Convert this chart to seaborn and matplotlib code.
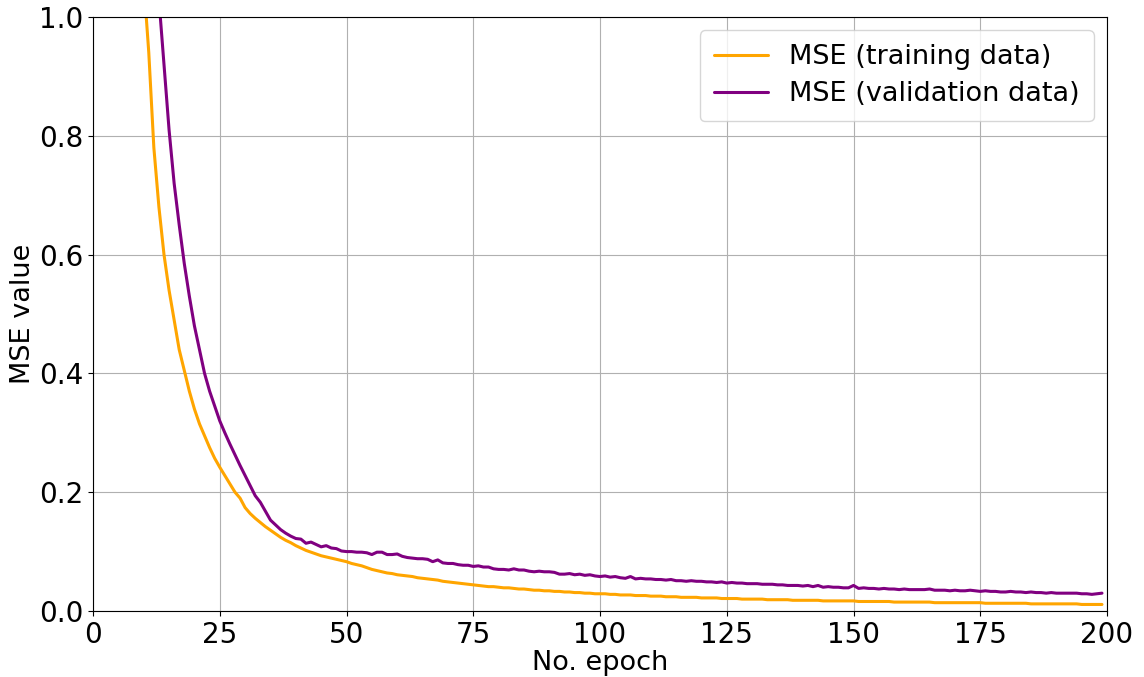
import numpy as np
import pandas as pd
import matplotlib
matplotlib.use("Agg")
import matplotlib.pyplot as plt
import seaborn as sns

# Epoch index 0..199
epochs = list(range(200))

train_mse = [
    6.20, 4.90, 3.95, 3.25, 2.70, 2.25, 1.90, 1.62, 1.38, 1.18,   # 0-9
    1.06, 0.94, 0.78, 0.68, 0.60, 0.54, 0.49, 0.44, 0.405, 0.37,  # 10-19
    0.34, 0.315, 0.295, 0.275, 0.257, 0.242, 0.228, 0.214, 0.200, 0.190,  # 20-29
    0.174, 0.164, 0.156, 0.149, 0.142, 0.136, 0.130, 0.124, 0.119, 0.115,  # 30-39
    0.110, 0.106, 0.102, 0.099, 0.096, 0.093, 0.091, 0.089, 0.087, 0.085,  # 40-49
    0.083, 0.080, 0.078, 0.076, 0.073, 0.070, 0.068, 0.066, 0.064, 0.063,  # 50-59
    0.061, 0.060, 0.059, 0.058, 0.056, 0.055, 0.054, 0.053, 0.052, 0.050,  # 60-69
    0.049, 0.048, 0.047, 0.046, 0.045, 0.044, 0.043, 0.042, 0.041, 0.041,  # 70-79
    0.040, 0.039, 0.039, 0.038, 0.037, 0.037, 0.036, 0.035, 0.035, 0.034,  # 80-89
    0.034, 0.033, 0.033, 0.032, 0.032, 0.031, 0.031, 0.030, 0.030, 0.029,  # 90-99
    0.029, 0.029, 0.028, 0.028, 0.027, 0.027, 0.027, 0.026, 0.026, 0.026,  # 100-109
    0.025, 0.025, 0.025, 0.024, 0.024, 0.024, 0.023, 0.023, 0.023, 0.023,  # 110-119
    0.022, 0.022, 0.022, 0.022, 0.021, 0.021, 0.021, 0.021, 0.020, 0.020,  # 120-129
    0.020, 0.020, 0.020, 0.019, 0.019, 0.019, 0.019, 0.019, 0.018, 0.018,  # 130-139
    0.018, 0.018, 0.018, 0.018, 0.017, 0.017, 0.017, 0.017, 0.017, 0.017,  # 140-149
    0.017, 0.016, 0.016, 0.016, 0.016, 0.016, 0.016, 0.016, 0.015, 0.015,  # 150-159
    0.015, 0.015, 0.015, 0.015, 0.015, 0.015, 0.014, 0.014, 0.014, 0.014,  # 160-169
    0.014, 0.014, 0.014, 0.014, 0.014, 0.014, 0.013, 0.013, 0.013, 0.013,  # 170-179
    0.013, 0.013, 0.013, 0.013, 0.013, 0.012, 0.012, 0.012, 0.012, 0.012,  # 180-189
    0.012, 0.012, 0.012, 0.012, 0.012, 0.011, 0.011, 0.011, 0.011, 0.011,  # 190-199
]

val_mse = [
    7.50, 6.10, 5.00, 4.10, 3.40, 2.85, 2.40, 2.05, 1.76, 1.52,   # 0-9
    1.34, 1.20, 1.10, 1.03, 0.92, 0.81, 0.72, 0.65, 0.585, 0.53,  # 10-19
    0.480, 0.440, 0.400, 0.370, 0.345, 0.320, 0.300, 0.281, 0.263, 0.245,  # 20-29
    0.228, 0.211, 0.194, 0.183, 0.168, 0.153, 0.145, 0.137, 0.131, 0.126,  # 30-39
    0.122, 0.121, 0.114, 0.116, 0.112, 0.108, 0.110, 0.106, 0.105, 0.101,  # 40-49
    0.100, 0.100, 0.099, 0.099, 0.098, 0.095, 0.099, 0.099, 0.095, 0.095,  # 50-59
    0.096, 0.092, 0.090, 0.089, 0.088, 0.088, 0.087, 0.083, 0.086, 0.081,  # 60-69
    0.080, 0.080, 0.078, 0.077, 0.077, 0.075, 0.076, 0.074, 0.074, 0.071,  # 70-79
    0.070, 0.070, 0.069, 0.071, 0.069, 0.069, 0.067, 0.066, 0.067, 0.066,  # 80-89
    0.066, 0.065, 0.062, 0.062, 0.063, 0.061, 0.062, 0.060, 0.061, 0.059,  # 90-99
    0.058, 0.059, 0.057, 0.058, 0.056, 0.055, 0.058, 0.054, 0.055, 0.054,  # 100-109
    0.054, 0.053, 0.053, 0.052, 0.053, 0.051, 0.051, 0.050, 0.051, 0.050,  # 110-119
    0.050, 0.049, 0.049, 0.048, 0.049, 0.047, 0.048, 0.047, 0.047, 0.046,  # 120-129
    0.046, 0.046, 0.045, 0.045, 0.045, 0.044, 0.044, 0.043, 0.043, 0.043,  # 130-139
    0.042, 0.043, 0.041, 0.043, 0.040, 0.041, 0.040, 0.040, 0.039, 0.039,  # 140-149
    0.043, 0.038, 0.039, 0.038, 0.038, 0.037, 0.038, 0.037, 0.037, 0.036,  # 150-159
    0.037, 0.036, 0.036, 0.036, 0.036, 0.037, 0.035, 0.035, 0.035, 0.034,  # 160-169
    0.035, 0.034, 0.034, 0.035, 0.034, 0.033, 0.034, 0.033, 0.033, 0.032,  # 170-179
    0.032, 0.033, 0.032, 0.032, 0.031, 0.032, 0.031, 0.031, 0.030, 0.031,  # 180-189
    0.030, 0.030, 0.030, 0.030, 0.030, 0.029, 0.029, 0.028, 0.029, 0.030,  # 190-199
]

series_labels = ["MSE (training data)", "MSE (validation data)"]
series_colors = ["orange", "purple"]

df = pd.DataFrame({
    "epoch": epochs + epochs,
    "mse": train_mse + val_mse,
    "series": [series_labels[0]] * len(epochs) + [series_labels[1]] * len(epochs),
})

sns.set_style("white")
plt.rcParams['font.family'] = ['DejaVu Sans']
plt.rcParams['text.color'] = 'black'
plt.rcParams['axes.labelcolor'] = 'black'

fig = plt.figure(figsize=(11.44, 6.77), dpi=100)
ax = fig.add_axes([0.0813, 0.0975, 0.8864, 0.8775])

sns.lineplot(data=df, x="epoch", y="mse", hue="series",
             palette=dict(zip(series_labels, series_colors)),
             linewidth=2.2, ax=ax)

ax.set_xlim(0, 200)
ax.set_ylim(0, 1.0)
ax.set_xticks([0, 25, 50, 75, 100, 125, 150, 175, 200])
ax.set_yticks([0.0, 0.2, 0.4, 0.6, 0.8, 1.0])
ax.grid(True, color="#b0b0b0", linewidth=0.8)
ax.tick_params(axis="both", labelsize=20, direction="out", length=3.5, width=0.8,
               bottom=True, left=True, colors="black")
for s in ax.spines.values():
    s.set_color("black")
    s.set_linewidth(0.8)
ax.set_xlabel("No. epoch", fontsize=19.5, labelpad=1)
ax.set_ylabel("MSE value", fontsize=19.5, labelpad=2)

leg = ax.legend(loc="upper right", fontsize=19.5, frameon=True, framealpha=0.8,
                edgecolor="#cccccc", fancybox=True, labelspacing=0.42,
                borderpad=0.5)
for line in leg.get_lines():
    line.set_linewidth(2.2)

fig.savefig("out.png", dpi=100)
